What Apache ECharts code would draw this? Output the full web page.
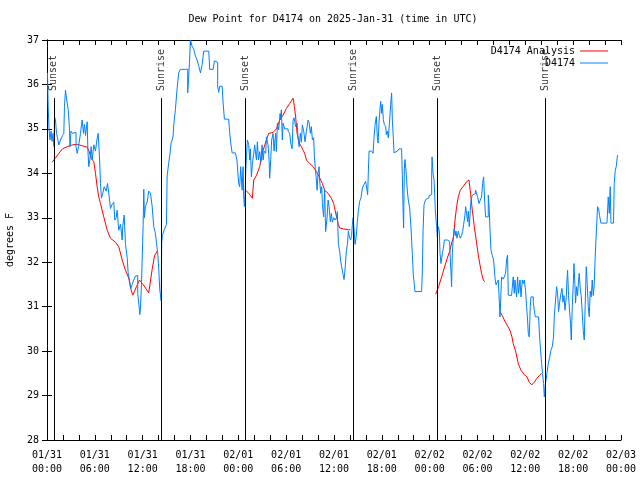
<!DOCTYPE html>
<html><head><meta charset="utf-8">
<script src="https://cdn.jsdelivr.net/npm/echarts@6/dist/echarts.min.js"></script>
<style>html,body{margin:0;padding:0;background:#fff}#c{width:640px;height:480px}</style>
</head><body><div id="c"></div>
<script>
// Hours since 2025-01-31 00:00 UTC, dew point (deg F)
const titleText = 'Dew Point for D4174 on 2025-Jan-31 (time in UTC)';
const yAxisTitle = 'degrees F';
const obsName = 'D4174';
const anaName = 'D4174 Analysis';
const xTickLabels = ['01/31\n00:00','01/31\n06:00','01/31\n12:00','01/31\n18:00','02/01\n00:00','02/01\n06:00','02/01\n12:00','02/01\n18:00','02/02\n00:00','02/02\n06:00','02/02\n12:00','02/02\n18:00','02/03\n00:00'];
const sunNames = ['Sunset','Sunrise','Sunset','Sunrise','Sunset','Sunrise'];
const sunHours = [0.85, 14.39, 24.92, 38.47, 49.0, 62.54];

const obsPoints = [
[0.06,36.26],[0.15,35.5],[0.25,35.0],[0.38,34.75],[0.5,34.95],[0.63,34.72],[0.75,34.9],[0.88,34.6],[0.94,35.27],[1.07,35.2],
[1.19,34.9],[1.32,34.8],[1.48,34.64],[1.69,34.75],[1.94,34.85],[2.11,34.9],[2.19,35.5],[2.32,35.87],[2.44,35.7],[2.66,35.43],
[2.82,35.0],[2.88,34.6],[3.01,34.95],[3.2,34.9],[3.45,34.92],[3.64,34.6],[3.79,34.45],[3.95,34.6],[4.2,34.9],[4.41,35.2],
[4.58,34.9],[4.7,35.1],[4.83,34.85],[5.04,35.16],[5.12,34.56],[5.24,34.15],[5.37,34.3],[5.54,34.6],[5.67,34.3],[5.87,34.64],
[6.08,34.5],[6.29,34.79],[6.42,34.9],[6.58,34.37],[6.71,33.77],[6.83,33.44],[7.0,33.55],[7.17,33.7],[7.42,33.6],[7.59,33.77],
[7.75,33.55],[7.96,33.21],[8.17,33.3],[8.38,33.35],[8.5,32.95],[8.68,33.0],[8.8,33.17],[9.0,32.72],[9.22,32.85],[9.43,32.5],
[9.5,32.8],[9.68,33.06],[9.84,32.42],[10.06,32.1],[10.18,31.75],[10.34,31.6],[10.51,31.41],[10.68,31.5],[10.88,31.6],[11.1,31.69],
[11.31,31.7],[11.38,31.3],[11.6,30.92],[11.63,30.82],[11.72,30.94],[11.85,31.5],[12.06,32.85],[12.14,33.64],[12.22,33.0],[12.35,33.26],
[12.56,33.35],[12.76,33.6],[12.98,33.55],[13.19,33.26],[13.39,32.8],[13.6,32.65],[13.73,32.44],[13.89,32.2],[14.02,31.84],[14.14,31.39],
[14.32,31.13],[14.39,32.44],[14.48,32.6],[14.73,32.74],[14.98,32.85],[15.07,33.94],[15.27,34.24],[15.4,34.4],[15.57,34.69],[15.7,34.75],
[15.82,34.84],[15.9,35.1],[16.02,35.1],[16.11,35.44],[16.24,35.74],[16.4,36.05],[16.52,36.26],[16.74,36.34],[17.36,36.34],[17.65,35.81],
[17.87,36.49],[17.99,37.0],[18.2,36.86],[18.41,36.79],[18.62,36.64],[18.83,36.55],[19.03,36.42],[19.25,36.26],[19.46,36.45],[19.66,36.75],
[20.29,36.75],[20.41,36.34],[20.84,36.34],[21.0,36.53],[21.25,36.5],[21.41,35.96],[21.54,35.82],[21.66,35.96],[21.97,35.96],[22.09,35.59],
[22.25,35.22],[22.79,35.22],[22.92,34.91],[23.04,34.69],[23.22,34.46],[23.63,34.44],[23.84,34.28],[23.97,33.94],[24.05,33.77],[24.17,33.7],
[24.3,34.15],[24.47,33.62],[24.6,34.15],[24.67,33.47],[24.76,33.25],[24.89,33.75],[24.92,34.0],[25.01,34.37],[25.14,34.75],[25.3,34.65],
[25.43,34.3],[25.51,34.55],[25.64,33.92],[25.76,34.2],[25.93,34.45],[26.05,34.64],[26.27,34.3],[26.39,34.71],[26.52,34.3],[26.68,34.49],
[26.81,34.25],[26.98,34.64],[27.11,34.3],[27.23,34.5],[27.43,34.45],[27.52,34.82],[27.73,34.64],[27.86,34.3],[27.93,33.89],[28.06,34.3],
[28.18,34.75],[28.36,34.9],[28.48,34.5],[28.56,34.68],[28.69,34.9],[28.77,34.49],[28.9,35.13],[29.06,34.98],[29.24,35.35],[29.31,35.2],
[29.4,35.43],[29.52,34.75],[29.61,35.13],[29.81,35.0],[30.03,35.0],[30.24,34.95],[30.44,34.9],[30.57,34.68],[30.74,34.55],[30.87,35.2],
[30.99,35.25],[31.19,35.05],[31.37,35.13],[31.49,34.82],[31.62,34.6],[31.78,34.9],[31.91,34.7],[32.03,35.09],[32.2,34.95],[32.37,34.71],
[32.54,34.95],[32.75,35.2],[32.87,35.15],[33.04,34.9],[33.16,35.05],[33.29,34.75],[33.45,34.8],[33.54,34.37],[33.66,34.11],[33.79,33.85],
[33.88,33.62],[34.0,34.0],[34.13,34.15],[34.2,33.85],[34.33,33.55],[34.46,33.7],[34.54,33.32],[34.7,33.02],[34.83,33.62],[34.95,32.69],
[35.13,33.0],[35.26,33.4],[35.38,33.25],[35.54,32.91],[35.67,33.1],[35.79,32.9],[35.96,33.0],[36.13,32.95],[36.3,33.0],[36.42,33.14],
[36.55,32.4],[36.71,32.25],[36.84,32.02],[36.96,31.9],[37.14,31.72],[37.26,31.61],[37.39,31.85],[37.55,32.25],[37.68,32.4],[37.8,32.7],
[37.96,32.55],[38.09,32.5],[38.21,32.6],[38.3,32.84],[38.39,33.0],[38.51,32.75],[38.64,32.4],[38.8,32.6],[38.93,32.92],[39.05,33.15],
[39.22,33.37],[39.39,33.45],[39.56,33.67],[39.77,33.75],[39.97,33.82],[40.1,33.67],[40.22,33.52],[40.31,34.05],[40.4,34.5],[40.72,34.5],
[40.9,34.45],[41.02,34.8],[41.15,35.09],[41.31,35.28],[41.44,34.8],[41.53,34.68],[41.65,35.15],[41.78,35.47],[41.85,35.62],[41.98,35.35],
[42.06,35.55],[42.19,35.21],[42.31,35.1],[42.48,35.05],[42.57,34.87],[42.69,34.95],[42.82,34.8],[42.98,35.2],[43.11,35.55],[43.23,35.81],
[43.32,35.2],[43.44,34.8],[43.53,34.46],[43.69,34.5],[43.94,34.52],[44.16,34.55],[44.48,34.55],[44.57,33.97],[44.66,33.22],[44.73,32.77],
[44.82,34.1],[44.91,34.31],[45.07,33.97],[45.2,33.6],[45.32,33.4],[45.49,33.22],[45.66,32.77],[45.74,32.47],[45.83,32.17],[45.95,31.72],
[46.08,31.49],[46.16,31.34],[46.99,31.34],[47.08,31.8],[47.17,32.7],[47.29,33.29],[47.49,33.41],[47.71,33.45],[47.92,33.5],[48.12,33.52],
[48.25,33.97],[48.3,34.37],[48.42,34.0],[48.55,33.85],[48.71,33.17],[48.87,32.8],[48.96,32.57],[49.09,32.8],[49.21,32.7],[49.3,32.2],
[49.42,31.97],[49.59,32.2],[49.71,32.3],[49.84,32.5],[50.21,32.47],[50.5,32.5],[50.59,32.05],[50.68,31.75],[50.75,31.45],[50.84,32.2],
[50.97,32.57],[51.09,32.76],[51.22,32.6],[51.3,32.7],[51.43,32.54],[51.59,32.7],[51.72,32.6],[51.84,32.54],[52.0,32.6],[52.13,32.69],
[52.26,32.85],[52.43,33.06],[52.51,33.25],[52.63,33.1],[52.76,32.91],[52.85,33.15],[52.97,32.8],[53.1,33.17],[53.19,33.4],[53.35,33.51],
[53.6,33.55],[53.76,33.62],[54.01,33.47],[54.19,33.32],[54.35,33.4],[54.51,33.47],[54.64,33.77],[54.77,33.92],[54.89,33.4],[55.01,33.02],
[55.19,33.02],[55.35,33.51],[55.47,33.2],[55.56,32.76],[55.69,32.27],[55.86,32.15],[56.02,32.05],[56.2,31.64],[56.33,31.49],[56.45,31.55],
[56.61,31.6],[56.73,31.15],[56.82,30.77],[56.9,31.1],[57.02,31.67],[57.23,31.62],[57.36,31.67],[57.52,31.75],[57.65,32.05],[57.77,32.16],
[57.86,31.26],[58.07,31.25],[58.27,31.26],[58.48,31.67],[58.61,31.3],[58.7,31.6],[58.9,31.22],[59.03,31.67],[59.15,31.3],[59.33,31.6],
[59.46,31.22],[59.62,31.6],[59.74,31.52],[59.87,31.6],[60.03,31.37],[60.16,31.0],[60.28,30.7],[60.37,30.4],[60.49,30.32],[60.62,31.0],
[60.71,31.22],[60.87,31.22],[61.0,31.1],[61.12,30.92],[61.25,30.77],[61.66,30.77],[61.79,30.32],[61.91,30.02],[62.04,29.72],[62.16,29.5],
[62.29,29.27],[62.38,28.97],[62.5,29.24],[62.71,29.5],[62.88,29.72],[63.04,29.85],[63.21,30.02],[63.38,30.1],[63.54,30.32],[63.63,30.77],
[63.79,31.15],[63.92,31.45],[64.04,31.3],[64.17,30.89],[64.3,31.1],[64.47,31.3],[64.6,31.41],[64.72,31.1],[64.85,31.25],[64.97,30.92],
[65.13,31.2],[65.22,31.6],[65.3,31.82],[65.42,31.25],[65.55,30.9],[65.67,30.62],[65.76,30.25],[65.89,31.0],[66.01,31.5],[66.1,31.97],
[66.22,31.5],[66.3,31.08],[66.43,31.45],[66.55,31.25],[66.68,31.6],[66.76,31.75],[66.89,31.4],[67.01,31.25],[67.14,30.85],[67.26,30.47],
[67.39,30.25],[67.51,31.05],[67.64,31.9],[67.77,31.5],[67.89,31.0],[68.02,30.77],[68.14,31.35],[68.27,31.22],[68.39,31.6],[68.52,31.25],
[68.64,31.49],[68.73,31.97],[68.86,32.5],[68.98,32.95],[69.06,33.25],[69.19,33.2],[69.31,33.05],[69.48,32.88],[70.24,32.88],[70.4,33.47],
[70.53,33.1],[70.65,33.7],[70.74,32.88],[71.06,32.88],[71.15,33.77],[71.28,34.07],[71.4,34.15],[71.49,34.3],[71.57,34.41]
];

const anaPoints = [
[0.65,34.25],[1.07,34.35],[1.48,34.45],[1.94,34.55],[2.53,34.6],[3.16,34.64],[3.79,34.65],[4.41,34.62],[5.04,34.59],[5.27,34.5],
[5.54,34.34],[5.87,34.26],[6.08,34.0],[6.29,33.7],[6.49,33.47],[6.71,33.32],[7.12,33.02],[7.55,32.72],[7.96,32.54],[8.59,32.45],
[9.0,32.35],[9.43,32.05],[9.84,31.82],[10.26,31.64],[10.51,31.4],[10.76,31.26],[11.22,31.45],[11.6,31.6],[11.97,31.52],[12.35,31.42],
[12.76,31.31],[13.19,31.84],[13.48,32.14],[13.82,32.25],
[19.0,null],
[24.92,33.62],[25.3,33.55],[25.76,33.44],[25.93,33.85],[26.27,33.95],[26.68,34.15],[27.11,34.52],[27.52,34.75],[27.81,34.9],[28.36,34.92],
[28.77,35.0],[29.19,35.2],[29.61,35.31],[30.03,35.46],[30.44,35.57],[30.87,35.69],[31.03,35.5],[31.19,35.27],[31.37,34.9],[31.62,34.68],
[31.91,34.6],[32.12,34.52],[32.32,34.45],[32.54,34.3],[32.95,34.22],[33.38,34.15],[33.79,34.04],[34.2,33.9],[34.54,33.77],[34.83,33.62],
[35.26,33.55],[35.67,33.44],[35.96,33.32],[36.21,33.1],[36.3,33.07],[36.55,32.85],[36.71,32.77],[37.17,32.75],[37.8,32.73],[38.05,32.73],
[43.0,null],
[48.75,31.28],[48.96,31.3],[49.12,31.45],[49.5,31.67],[49.71,31.8],[50.13,32.05],[50.55,32.27],[50.78,32.45],[51.0,32.57],[51.18,32.95],
[51.38,33.25],[51.59,33.47],[51.84,33.62],[52.26,33.72],[52.63,33.81],[52.93,33.85],[53.13,33.55],[53.35,33.17],[53.6,32.8],[53.89,32.43],
[54.1,32.16],[54.31,31.94],[54.51,31.75],[54.73,31.6],[54.92,31.56],
[55.8,null],
[56.77,30.89],[57.1,30.8],[57.36,30.7],[57.69,30.59],[58.07,30.47],[58.32,30.32],[58.48,30.17],[58.78,30.0],[59.11,29.72],[59.45,29.57],
[59.87,29.47],[60.21,29.42],[60.49,29.3],[60.81,29.24],[61.12,29.3],[61.46,29.39],[61.75,29.45],[62.04,29.5]
];

const yMin = 28, yMax = 37;
const sunLineTop = 35.69;
const sunLabelBase = 35.85;

const FONT = 'DejaVu Sans Mono';
const chart = echarts.init(document.getElementById('c'), null, {renderer: 'canvas'});

const xCommon = {
  type: 'value', min: 0, max: 72, interval: 2,
  axisLine: {show: true, lineStyle: {color: '#000', width: 1}},
  axisTick: {show: true, inside: true, length: 5, lineStyle: {color: '#000'}},
  splitLine: {show: false}
};
const yCommon = {
  type: 'value', min: yMin, max: yMax, interval: 1,
  axisLine: {show: true, lineStyle: {color: '#000', width: 1}},
  axisTick: {show: true, inside: true, length: 5, lineStyle: {color: '#000'}},
  splitLine: {show: false}
};

chart.setOption({
  animation: false,
  backgroundColor: '#fff',
  textStyle: {fontFamily: FONT},
  grid: {left: 47, right: 19, top: 40, bottom: 40},
  graphic: [
    {type: 'text', x: 333, y: 19, style: {text: titleText, font: '10px "DejaVu Sans Mono"', fill: '#000', textAlign: 'center', textVerticalAlign: 'middle'}},
    {type: 'text', x: 10, y: 240, rotation: Math.PI / 2, style: {text: yAxisTitle, font: '10px "DejaVu Sans Mono"', fill: '#000', textAlign: 'center', textVerticalAlign: 'middle'}}
  ],
  legend: {
    data: [anaName, obsName],
    orient: 'vertical', right: 27, top: 40, align: 'right',
    icon: 'rect', itemWidth: 28, itemHeight: 1, itemGap: 0,
    textStyle: {fontFamily: FONT, fontSize: 10, color: '#000', lineHeight: 12}
  },
  xAxis: [
    Object.assign({}, xCommon, {position: 'bottom',
      axisLabel: {show: true, margin: 8, fontFamily: FONT, fontSize: 10, color: '#000', lineHeight: 14,
        showMinLabel: true, showMaxLabel: true,
        formatter: function (v) { return (Math.round(v) % 6 === 0) ? xTickLabels[Math.round(v) / 6] : ''; }}}),
    Object.assign({}, xCommon, {position: 'top', axisLabel: {show: false}})
  ],
  yAxis: [
    Object.assign({}, yCommon, {position: 'left',
      axisLabel: {show: true, margin: 8, fontFamily: FONT, fontSize: 10, color: '#000'}}),
    Object.assign({}, yCommon, {position: 'right', axisLabel: {show: false}})
  ],
  series: [
    {
      name: 'sunLines', type: 'line', data: [], silent: true,
      markLine: {
        silent: true, symbol: ['none', 'none'], animation: false,
        label: {show: false},
        lineStyle: {color: '#000', width: 1, type: 'solid'},
        data: sunHours.map(h => [{coord: [h, yMin]}, {coord: [h, sunLineTop]}])
      }
    },
    {
      name: 'sunLabels', type: 'scatter', silent: true,
      symbolSize: 1, itemStyle: {color: 'rgba(0,0,0,0)'},
      data: sunHours.map(h => [h, sunLabelBase]),
      label: {
        show: true, position: 'inside', rotate: 90, align: 'left', verticalAlign: 'middle',
        fontFamily: FONT, fontSize: 10, color: '#000',
        formatter: p => sunNames[p.dataIndex]
      }
    },
    {
      name: anaName, type: 'line', data: anaPoints, showSymbol: false, symbol: 'none',
      connectNulls: false, lineStyle: {color: '#ff0000', width: 1}, itemStyle: {color: '#ff0000'}
    },
    {
      name: obsName, type: 'line', data: obsPoints, showSymbol: false, symbol: 'none', step: 'end',
      lineStyle: {color: '#0080ff', width: 1}, itemStyle: {color: '#0080ff'}
    }
  ]
});
</script></body></html>
